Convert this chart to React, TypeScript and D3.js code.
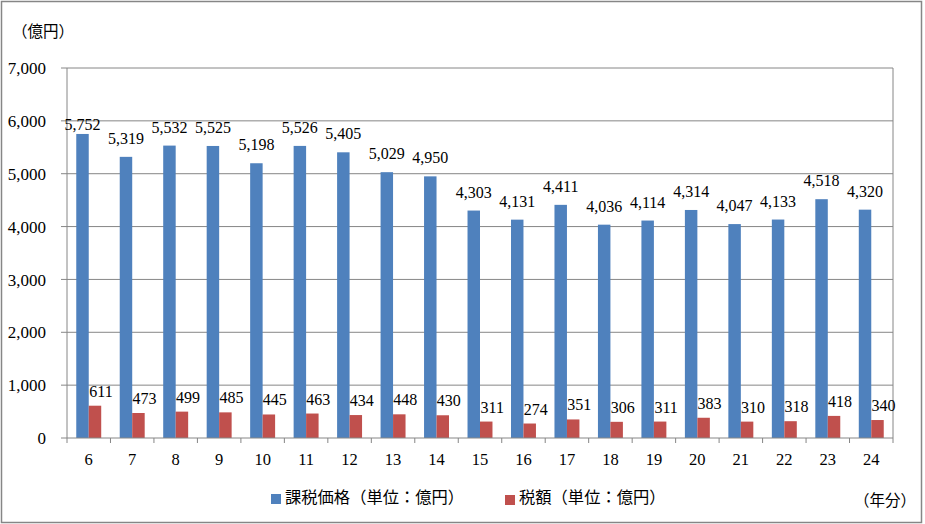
import React from "react";
import * as d3 from "d3";

const categories = ["6","7","8","9","10","11","12","13","14","15","16","17","18","19","20","21","22","23","24"];
const taxableValue = [5752,5319,5532,5525,5198,5526,5405,5029,4950,4303,4131,4411,4036,4114,4314,4047,4133,4518,4320];
const taxAmount = [611,473,499,485,445,463,434,448,430,311,274,351,306,311,383,310,318,418,340];
const yTicks = [0,1000,2000,3000,4000,5000,6000,7000];
const seriesNames = ["課税価格（単位：億円）", "税額（単位：億円）"];
const colors = ["#4F81BD", "#C0504D"];

const W = 925, H = 524;
const margin = { left: 67, right: 32, top: 68, bottom: 86 };
const numFont = "'Liberation Serif', 'DejaVu Serif', serif";
const cjkFont = "'Noto Sans CJK JP', 'Noto Sans', sans-serif";

export default function App() {
  const x = d3.scaleBand<string>().domain(categories).range([margin.left, W - margin.right]).paddingInner(0).paddingOuter(0);
  const y = d3.scaleLinear().domain([0, 7000]).range([H - margin.bottom, margin.top]);
  const bw = x.bandwidth() * 0.287;
  const fmt = d3.format(",");
  const grid = "#868686";
  const x0 = margin.left, x1 = W - margin.right, yb = y(0);

  return (
    <svg width={W} height={H} style={{ position: "absolute", left: 0, top: 0, background: "#fff" }}>
      <rect x={1.5} y={1.5} width={920} height={521} fill="#fff" stroke={grid} strokeWidth={1.5} />
      <text x={12} y={37} fontFamily={cjkFont} fontSize={15.5} fill="#000">（億円）</text>
      {yTicks.map(t => (
        <g key={t}>
          {t > 0 && <line x1={x0} x2={x1} y1={y(t)} y2={y(t)} stroke={grid} strokeWidth={1} />}
          <line x1={x0 - 6} x2={x0} y1={y(t)} y2={y(t)} stroke={grid} strokeWidth={1} />
          <text x={46} y={y(t)} dy="0.36em" textAnchor="end" fontFamily={numFont} fontSize={17} fill="#000">{fmt(t)}</text>
        </g>
      ))}
      <line x1={x0} x2={x0} y1={y(7000)} y2={yb} stroke={grid} strokeWidth={1} />
      <line x1={x1} x2={x1} y1={y(7000)} y2={yb} stroke={grid} strokeWidth={1} />
      {categories.map((c, i) => {
        const cx = (x(c) as number) + x.bandwidth() / 2;
        const b1 = cx - bw, b2 = cx;
        return (
          <g key={c}>
            <rect x={b1} y={y(taxableValue[i])} width={bw} height={yb - y(taxableValue[i])} fill={colors[0]} />
            <rect x={b2} y={y(taxAmount[i])} width={bw} height={yb - y(taxAmount[i])} fill={colors[1]} />
            <text x={b1 + bw / 2} y={y(taxableValue[i]) - (i === 0 ? 4 : 13)} textAnchor="middle" fontFamily={numFont} fontSize={16} fill="#000">{fmt(taxableValue[i])}</text>
            <text x={b2 + bw / 2 + 6} y={y(taxAmount[i]) - 9} textAnchor="middle" fontFamily={numFont} fontSize={16} fill="#000">{fmt(taxAmount[i])}</text>
            <text x={cx} y={465} textAnchor="middle" fontFamily={numFont} fontSize={16.5} fill="#000">{c}</text>
          </g>
        );
      })}
      <line x1={x0} x2={x1} y1={yb} y2={yb} stroke={grid} strokeWidth={1} />
      {categories.concat([""]).map((c, i) => {
        const tx = x0 + i * x.bandwidth();
        return <line key={i} x1={tx} x2={tx} y1={yb} y2={yb + 5} stroke={grid} strokeWidth={1} />;
      })}
      <rect x={271} y={494} width={10} height={10} fill={colors[0]} />
      <text x={285} y={503} fontFamily={cjkFont} fontSize={16.3} fill="#000">{seriesNames[0]}</text>
      <rect x={505} y={495} width={10} height={10} fill={colors[1]} />
      <text x={519} y={503} fontFamily={cjkFont} fontSize={16.3} fill="#000">{seriesNames[1]}</text>
      <text x={916} y={506} textAnchor="end" fontFamily={cjkFont} fontSize={15.5} fill="#000">（年分）</text>
    </svg>
  );
}
